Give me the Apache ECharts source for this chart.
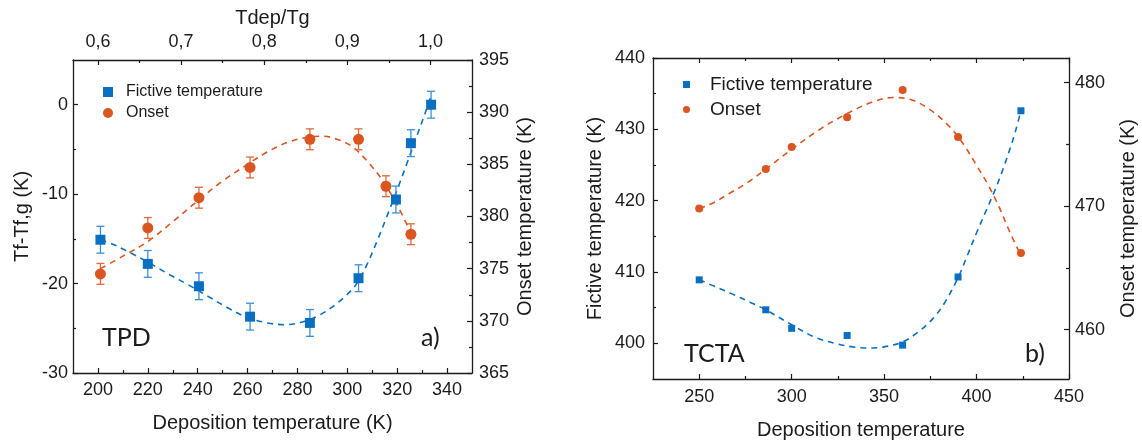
<!DOCTYPE html>
<html>
<head>
<meta charset="utf-8">
<title>Fictive and onset temperatures vs deposition temperature</title>
<script src="https://cdn.jsdelivr.net/npm/echarts@6/dist/echarts.min.js"></script>
<style>
  html, body { margin: 0; padding: 0; background: #ffffff; }
  #chart { width: 1142px; height: 445px; }
</style>
</head>
<body>
<div id="chart"></div>
<script>
// ---- Panel a) TPD: measured points with error bars ----
const tpdFictiveT   = [201, 220, 240.5, 261, 285, 304.5, 319.5, 325.5, 333.6];
const tpdFictive    = [-15.1, -17.8, -20.3, -23.7, -24.4, -19.4, -10.6, -4.3, 0.0];
const tpdFictiveErr = [1.5, 1.5, 1.5, 1.5, 1.5, 1.5, 1.5, 1.5, 1.5];
const tpdOnsetT     = [201, 220, 240.5, 261, 285, 304.5, 315.5, 325.5];
const tpdOnset      = [374.5, 378.9, 381.8, 384.7, 387.4, 387.4, 382.9, 378.3];
const tpdOnsetErr   = [1.0, 1.0, 1.0, 1.0, 1.0, 1.0, 1.0, 1.0];

// Panel a) dashed guide curves (T, value)
const tpdFictiveFitT = [201, 206, 214, 220, 228, 236, 244, 252, 260, 268, 275, 282, 289, 295, 300, 304, 308, 312, 316, 320, 324, 328, 331, 333.6];
const tpdFictiveFit  = [-15.1, -15.6, -16.7, -17.6, -18.9, -20.1, -21.4, -22.7, -23.8, -24.4, -24.6, -24.3, -23.5, -22.4, -21.2, -19.9, -17.8, -15.2, -12.4, -9.5, -6.5, -3.4, -1.1, 1.0];
const tpdOnsetFitT   = [201, 210, 220, 230, 240, 250, 260, 268, 276, 284, 290, 296, 302, 308, 314, 320, 325.5];
const tpdOnsetFit    = [375.0, 376.2, 377.6, 379.5, 381.5, 383.4, 385.0, 386.2, 387.1, 387.6, 387.7, 387.4, 386.7, 385.3, 383.5, 381.1, 378.4];

// ---- Panel b) TCTA ----
const tctaT        = [250, 286, 300, 330, 360, 390, 424];
const tctaFictive  = [408.9, 404.7, 402.1, 401.1, 399.75, 409.3, 432.6];
const tctaOnset    = [469.8, 473.0, 474.8, 477.2, 479.4, 475.6, 466.2];

const tctaFictiveFitT = [250, 260, 268, 278, 286, 300, 313, 325, 333, 341, 350, 360, 368, 376.5, 383, 390, 395, 400, 405, 410, 414, 418, 421, 424];
const tctaFictiveFit  = [408.9, 407.8, 406.9, 405.7, 404.7, 402.6, 400.8, 399.9, 399.5, 399.35, 399.5, 400.2, 401.5, 403.5, 405.8, 409.2, 412.3, 415.5, 418.5, 421.5, 424.2, 427.2, 429.7, 432.6];
const tctaOnsetFitT   = [250, 258, 266, 276, 286, 300, 315, 330, 343, 355, 365, 375, 385, 393, 400, 406, 412, 418, 424];
const tctaOnsetFit    = [469.8, 470.3, 471.0, 471.9, 473.0, 474.6, 476.2, 477.5, 478.4, 478.8, 478.6, 477.8, 476.5, 475.0, 473.3, 471.8, 470.0, 467.9, 466.0];

// ---- Axis tick labels ----
const tpdTLabels      = [200, 220, 240, 260, 280, 300, 320, 340];
const tpdTMinor       = [210, 230, 250, 270, 290, 310, 330];
const ratioLabels     = [0.6, 0.7, 0.8, 0.9, 1.0];
const ratioMinor      = [0.65, 0.75, 0.85, 0.95];
const tpdLeftLabels   = [-30, -20, -10, 0];
const tpdLeftMinor    = [-25, -15, -5];
const tpdRightLabels  = [365, 370, 375, 380, 385, 390, 395];
const tpdRightMinor   = [367.5, 372.5, 377.5, 382.5, 387.5, 392.5];
const tctaTLabels     = [250, 300, 350, 400, 450];
const tctaTMinor      = [275, 325, 375, 425];
const tctaLeftLabels  = [400, 410, 420, 430, 440];
const tctaLeftMinor   = [405, 415, 425, 435];
const tctaRightLabels = [460, 470, 480];
const tctaRightMinor  = [465, 475];

const FONT = "'Liberation Sans', Arial, Helvetica, sans-serif";
const PANEL_FONT = '25px Lato, "Open Sans", sans-serif';
const INK = '#1b1b1b';
const BLUE = '#0b6fc1';
const ORANGE = '#da5520';
const BLUE_BAR = '#3b8fd6';
const ORANGE_BAR = '#e0683a';

const pairs = (xs, ys) => xs.map((x, i) => [x, ys[i]]);

// One axis that draws a line, ticks at given values and (optionally) labels.
function axis(gridIndex, position, min, max, values, opts) {
  opts = opts || {};
  return {
    type: 'value',
    gridIndex: gridIndex,
    position: position,
    min: min,
    max: max,
    axisLine: { show: opts.line !== false, onZero: false, lineStyle: { color: INK, width: 1.3 } },
    axisTick: { show: true, inside: true, length: opts.tickLen || 5, customValues: values,
                lineStyle: { color: INK, width: 1.2 } },
    axisLabel: opts.labels ? {
      show: true, customValues: values, color: INK, fontSize: 18, fontFamily: FONT,
      margin: opts.margin != null ? opts.margin : 7,
      formatter: opts.formatter
    } : { show: false },
    splitLine: { show: false },
    name: opts.name || '',
    nameLocation: 'middle',
    nameGap: opts.nameGap || 40,
    nameTextStyle: { color: INK, fontSize: 20, fontFamily: FONT },
    silent: true
  };
}

function errorBars(xs, ys, errs, xi, yi, color) {
  return {
    type: 'custom',
    xAxisIndex: xi,
    yAxisIndex: yi,
    silent: true,
    z: 2,
    data: xs.map((x, i) => [x, ys[i] - errs[i], ys[i] + errs[i]]),
    encode: { x: 0, y: [1, 2] },
    renderItem: function (params, api) {
      const lo = api.coord([api.value(0), api.value(1)]);
      const hi = api.coord([api.value(0), api.value(2)]);
      const cap = 4;
      const st = { stroke: color, lineWidth: 1.3 };
      return {
        type: 'group',
        children: [
          { type: 'line', shape: { x1: lo[0], y1: lo[1], x2: hi[0], y2: hi[1] }, style: st },
          { type: 'line', shape: { x1: lo[0] - cap, y1: lo[1], x2: lo[0] + cap, y2: lo[1] }, style: st },
          { type: 'line', shape: { x1: hi[0] - cap, y1: hi[1], x2: hi[0] + cap, y2: hi[1] }, style: st }
        ]
      };
    }
  };
}

function curve(xs, ys, xi, yi, color) {
  return {
    type: 'line', xAxisIndex: xi, yAxisIndex: yi, silent: true,
    data: pairs(xs, ys), showSymbol: false, symbol: 'none', smooth: 0.35, z: 1,
    lineStyle: { color: color, width: 1.6, type: [6, 5] }
  };
}

function points(name, xs, ys, xi, yi, symbol, size, color) {
  return {
    type: 'scatter', name: name, xAxisIndex: xi, yAxisIndex: yi,
    data: pairs(xs, ys), symbol: symbol, symbolSize: size, z: 3,
    itemStyle: { color: color, opacity: 1 }
  };
}

const ratioFmt = v => v.toFixed(1).replace('.', ',');

const option = {
  animation: false,
  backgroundColor: '#ffffff',
  grid: [
    { left: 73, top: 60, width: 399, height: 313 },
    { left: 653, top: 58, width: 416, height: 324 }
  ],
  xAxis: [
    // panel a
    axis(0, 'bottom', 190, 350, tpdTLabels, { labels: true, margin: 8, name: 'Deposition temperature (K)', nameGap: 40 }),
    axis(0, 'bottom', 190, 350, tpdTMinor, { line: false, tickLen: 3 }),
    axis(0, 'top', 0.57, 1.05, ratioLabels, { labels: true, margin: 9, formatter: ratioFmt, name: 'Tdep/Tg', nameGap: 30 }),
    axis(0, 'top', 0.57, 1.05, ratioMinor, { line: false, tickLen: 3 }),
    // panel b
    axis(1, 'bottom', 225, 450, tctaTLabels, { labels: true, margin: 9, name: 'Deposition temperature', nameGap: 41 }),
    axis(1, 'bottom', 225, 450, tctaTMinor, { line: false, tickLen: 3 }),
    axis(1, 'top', 225, 450, tctaTLabels, {}),
    axis(1, 'top', 225, 450, tctaTMinor, { line: false, tickLen: 3 })
  ],
  yAxis: [
    // panel a
    axis(0, 'left', -30, 5, tpdLeftLabels, { labels: true, margin: 5, name: 'Tf-Tf,g (K)', nameGap: 41 }),
    axis(0, 'left', -30, 5, tpdLeftMinor, { line: false, tickLen: 3 }),
    axis(0, 'right', 365, 395, tpdRightLabels, { labels: true, margin: 7, name: 'Onset temperature (K)', nameGap: 43 }),
    axis(0, 'right', 365, 395, tpdRightMinor, { line: false, tickLen: 3 }),
    // panel b
    axis(1, 'left', 395, 440, tctaLeftLabels, { labels: true, margin: 8, name: 'Fictive temperature (K)', nameGap: 48 }),
    axis(1, 'left', 395, 440, tctaLeftMinor, { line: false, tickLen: 3 }),
    axis(1, 'right', 456, 482, tctaRightLabels, { labels: true, margin: 6, name: 'Onset temperature (K)', nameGap: 49 }),
    axis(1, 'right', 456, 482, tctaRightMinor, { line: false, tickLen: 3 })
  ],
  legend: [
    {
      orient: 'vertical', left: 98, top: 79, itemWidth: 10, itemHeight: 10, itemGap: 5,
      selectedMode: false,
      textStyle: { color: INK, fontSize: 16, fontFamily: FONT, lineHeight: 16, padding: [0, 0, 0, 8] },
      data: [{ name: 'Fictive temperature', icon: 'rect' }, { name: 'Onset', icon: 'circle' }]
    },
    {
      orient: 'vertical', left: 678, top: 70, itemWidth: 7, itemHeight: 7, itemGap: 6,
      selectedMode: false,
      textStyle: { color: INK, fontSize: 19, fontFamily: FONT, lineHeight: 19, padding: [0, 0, 0, 15] },
      data: [{ name: 'Fictive temperature', icon: 'rect' }, { name: 'Onset', icon: 'circle' }]
    }
  ],
  graphic: [
    { type: 'text', left: 102, top: 325, silent: true,
      style: { text: 'TPD', font: PANEL_FONT, fill: INK } },
    { type: 'text', left: 421, top: 325, silent: true,
      style: { text: 'a)', font: PANEL_FONT, fill: INK } },
    { type: 'text', left: 684, top: 341, silent: true,
      style: { text: 'TCTA', font: PANEL_FONT, fill: INK } },
    { type: 'text', left: 1025, top: 341, silent: true,
      style: { text: 'b)', font: PANEL_FONT, fill: INK } }
  ],
  series: [
    // panel a: fits, error bars, markers
    curve(tpdFictiveFitT, tpdFictiveFit, 0, 0, BLUE),
    curve(tpdOnsetFitT, tpdOnsetFit, 0, 2, ORANGE),
    errorBars(tpdFictiveT, tpdFictive, tpdFictiveErr, 0, 0, BLUE_BAR),
    errorBars(tpdOnsetT, tpdOnset, tpdOnsetErr, 0, 2, ORANGE_BAR),
    points('Fictive temperature', tpdFictiveT, tpdFictive, 0, 0, 'rect', 10, BLUE),
    points('Onset', tpdOnsetT, tpdOnset, 0, 2, 'circle', 11, ORANGE),
    // panel b
    curve(tctaFictiveFitT, tctaFictiveFit, 4, 4, BLUE),
    curve(tctaOnsetFitT, tctaOnsetFit, 4, 6, ORANGE),
    points('Fictive temperature', tctaT, tctaFictive, 4, 4, 'rect', 7, BLUE),
    points('Onset', tctaT, tctaOnset, 4, 6, 'circle', 8, ORANGE)
  ]
};

const chart = echarts.init(document.getElementById('chart'), null, { renderer: 'canvas' });
chart.setOption(option);
</script>
</body>
</html>
